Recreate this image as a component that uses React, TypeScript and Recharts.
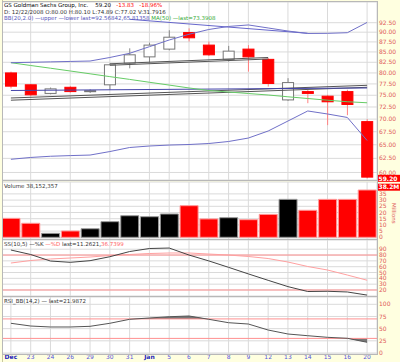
import React from "react";
import {
  ComposedChart,
  Bar,
  Line,
  Area,
  XAxis,
  YAxis,
  CartesianGrid,
  ReferenceLine,
  Cell,
} from "recharts";

const DATES = ["Dec", "23", "24", "26", "29", "30", "31", "Jan", "5", "6", "7", "8", "9", "12", "13", "14", "15", "16", "20"];

const OPEN = [80.0, 77.3, 75.4, 76.75, 75.9, 77.3, 82.3, 83.8, 85.7, 89.9, 86.7, 83.2, 85.7, 83.2, 74.0, 75.8, 74.8, 75.8, 69.5];
const HIGH = [80.3, 77.5, 76.7, 77.0, 76.3, 82.2, 85.9, 87.3, 90.5, 91.0, 87.6, 86.5, 86.7, 83.5, 78.8, 76.2, 75.1, 76.2, 70.0];
const LOW = [76.5, 74.8, 75.2, 75.6, 75.5, 76.2, 81.07, 82.4, 85.4, 87.6, 84.0, 82.7, 80.3, 76.9, 73.8, 73.3, 68.8, 70.8, 59.0];
const CLOSE = [77.0, 75.1, 76.4, 75.8, 76.0, 81.9, 84.3, 86.7, 88.7, 88.55, 84.3, 85.2, 83.8, 77.6, 77.8, 75.4, 73.6, 73.03, 59.2];
const PREV_CLOSE = 79.5;

const BB_UPPER = [82.4, 82.5, 82.6, 82.7, 82.8, 83.65, 84.67, 86.3, 87.99, 89.45, 90.7, 91.5, 91.9, 91.1, 90.3, 89.66, 89.7, 89.86, 92.57];
const BB_LOWER = [62.33, 62.66, 62.88, 63.0, 63.1, 63.74, 64.49, 64.77, 64.95, 65.05, 65.24, 65.62, 66.28, 67.64, 69.62, 71.67, 71.05, 70.34, 65.81];
const MA50 = [82.4, 81.74, 81.1, 80.45, 79.8, 79.15, 78.52, 77.87, 77.24, 76.6, 76.04, 75.71, 75.38, 75.06, 74.67, 74.3, 73.94, 73.61, 73.39];

// volume, millions
const VOLUME = [15.3, 11.3, 3.2, 5.1, 6.9, 12.6, 17.4, 16.6, 18.8, 25.5, 14.8, 15.8, 14.2, 18.5, 30.6, 21.8, 30.6, 30.6, 38.15];

const STO_K = [88.6, 80.9, 69.7, 67.5, 70.3, 77.1, 86.0, 91.2, 92.0, 80.0, 69.9, 58.9, 47.6, 36.6, 25.8, 17.4, 17.8, 16.6, 11.26];
const STO_D = [66.3, 70.6, 73.2, 74.9, 76.6, 79.2, 80.9, 82.6, 83.5, 83.5, 81.7, 80.0, 77.5, 74.0, 68.0, 60.3, 54.3, 45.7, 36.74];

const RSI = [61.0, 55.4, 53.4, 53.4, 54.8, 61.0, 69.2, 71.9, 74.5, 76.0, 69.2, 62.2, 59.5, 47.2, 39.0, 35.5, 32.2, 30.2, 21.99];

const PRICE_TICKS = [60, 62.5, 65, 67.5, 70, 72.5, 75, 77.5, 80, 82.5, 85, 87.5, 90, 92.5];
const VOL_TICKS = [0, 5, 10, 15, 20, 25, 30, 35];
const STO_TICKS = [20, 30, 40, 50, 60, 70, 80, 90];
const RSI_TICKS = [0, 25, 50, 75, 100];

// hand-drawn trendlines on the price panel: [fromIndex, fromPrice, toIndex, toPrice, color]
const TRENDLINES: [number, number, number, number, string][] = [
  [0, 74.41, 18, 77.19, "#555555"],
  [0, 73.94, 18, 76.75, "#555555"],
  [5, 82.14, 13, 83.65, "#555555"],
  [5, 81.79, 13, 83.29, "#555555"],
  [0, 76.04, 18, 76.6, "#4444aa"],
  [6, 93.41, 15, 89.71, "#6666cc"],
];

const rows = DATES.map((d, i) => {
  const prev = i === 0 ? PREV_CLOSE : CLOSE[i - 1];
  return {
    d,
    open: OPEN[i],
    high: HIGH[i],
    low: LOW[i],
    close: CLOSE[i],
    red: CLOSE[i] < prev,
    bbU: BB_UPPER[i],
    bbL: BB_LOWER[i],
    ma: MA50[i],
    vol: VOLUME[i],
    k: STO_K[i],
    dd: STO_D[i],
    rsi: RSI[i],
    rsiHi: [70, Math.max(RSI[i], 70)],
    rsiLo: [Math.min(RSI[i], 30), 30],
  };
});

const AXIS_TICK = { fill: "#e05a5a", fontSize: 6, fontFamily: "DejaVu Sans" };
const GRID = "#dadada";
// half a category band, so point-scale panels line up with the bar panels
const PAD = { left: 9.9, right: 9.9 };

function Candle(props: any) {
  const { x, y, width, height, payload } = props;
  const top = Math.min(y, y + height);
  const h = Math.abs(height);
  const { open, close, high, low, red } = payload;
  const span = Math.log(high) - Math.log(low);
  const toY = (v: number) => top + ((Math.log(high) - Math.log(v)) / span) * h;
  const cx = x + width / 2;
  const bTop = toY(Math.max(open, close));
  const bBot = toY(Math.min(open, close));
  const bh = Math.max(bBot - bTop, 1);
  const hollow = close > open;
  const col = red ? "#ff0000" : "#777777";
  return (
    <g>
      <line x1={cx} x2={cx} y1={top} y2={top + h} stroke={red ? "#ff8080" : "#888888"} strokeWidth={1} />
      <rect
        x={x + 0.5}
        y={bTop}
        width={width - 1}
        height={bh}
        fill={hollow ? "#ffffff" : red ? "#ff0000" : "#000000"}
        stroke={col}
        strokeWidth={1}
      />
    </g>
  );
}

function Tag(props: any) {
  const { viewBox, text, dy = 0 } = props;
  const x = viewBox.x + viewBox.width;
  const y = viewBox.y + dy;
  return (
    <g>
      <rect x={x} y={y - 3.5} width={23} height={7} fill="#ff0000" />
      <text x={x + 1.5} y={y + 2.2} fill="#ffffff" fontSize={6} fontWeight="bold" fontFamily="DejaVu Sans">
        {text}
      </text>
    </g>
  );
}

function DateTick(props: any) {
  const { x, y, payload } = props;
  const month = payload.value === "Dec" || payload.value === "Jan";
  return (
    <text
      x={x}
      y={y + 5}
      textAnchor="middle"
      fontSize={6}
      fontFamily="DejaVu Sans"
      fontWeight={month ? "bold" : "normal"}
      fill={month ? "#2222bb" : "#5555dd"}
    >
      {payload.value}
    </text>
  );
}

const txt: React.CSSProperties = {
  position: "absolute",
  fontFamily: "DejaVu Sans",
  fontSize: 5.5,
  lineHeight: "6px",
  whiteSpace: "nowrap",
  color: "#333",
};

export default function App() {
  return (
    <div
      style={{
        position: "absolute",
        left: 0,
        top: 0,
        width: 400,
        height: 362,
        background: "#ffffe0",
        overflow: "hidden",
      }}
    >
      {/* price panel */}
      <div style={{ position: "absolute", left: 0, top: 0 }}>
        <ComposedChart width={400} height={182} data={rows} margin={{ top: 2, right: 0, bottom: 2, left: 1 }}>
          <CartesianGrid stroke={GRID} fill="#ffffff" />
          <XAxis dataKey="d" hide />
          <YAxis
            orientation="right"
            width={23}
            scale="log"
            domain={[58.71, 98.2]}
            allowDataOverflow
            ticks={PRICE_TICKS}
            tickFormatter={(v: number) => v.toFixed(2)}
            tick={AXIS_TICK}
            tickSize={0}
            tickMargin={2}
            axisLine={false}
            tickLine={false}
            interval={0}
          />
          {TRENDLINES.map(([a, p1, b, p2, c], i) => (
            <ReferenceLine
              key={i}
              segment={[
                { x: DATES[a], y: p1 },
                { x: DATES[b], y: p2 },
              ]}
              stroke={c}
              strokeWidth={1}
              ifOverflow="visible"
            />
          ))}
          <Line dataKey="ma" stroke="#66cc66" strokeWidth={1} dot={false} isAnimationActive={false} />
          <Line dataKey="bbU" stroke="#7070c8" strokeWidth={1} dot={false} isAnimationActive={false} />
          <Line dataKey="bbL" stroke="#7070c8" strokeWidth={1} dot={false} isAnimationActive={false} />
          <Bar
            dataKey={(r: any) => [r.low, r.high]}
            barSize={12}
            shape={<Candle />}
            isAnimationActive={false}
          />
          <ReferenceLine
            y={CLOSE[CLOSE.length - 1]}
            stroke="none"
            ifOverflow="visible"
            label={<Tag text="59.20" dy={1.2} />}
          />
        </ComposedChart>
      </div>

      {/* volume panel */}
      <div style={{ position: "absolute", left: 0, top: 181 }}>
        <ComposedChart width={400} height={59} data={rows} margin={{ top: 1, right: 0, bottom: 1, left: 1 }}>
          <CartesianGrid stroke={GRID} fill="#ffffff" />
          <XAxis dataKey="d" hide />
          <YAxis
            orientation="right"
            width={23}
            domain={[-1.37, 44.6]}
            allowDataOverflow
            ticks={VOL_TICKS}
            tick={AXIS_TICK}
            tickSize={0}
            tickMargin={2}
            axisLine={false}
            tickLine={false}
            interval={0}
          />
          <Bar dataKey="vol" barSize={18} isAnimationActive={false}>
            {rows.map((r, i) => (
              <Cell key={i} fill={r.red ? "#ff0000" : "#000000"} stroke={r.red ? "#ff9a9a" : "#999999"} />
            ))}
          </Bar>
          <ReferenceLine
            y={VOLUME[VOLUME.length - 1]}
            stroke="none"
            ifOverflow="visible"
            label={<Tag text="38.2M" dy={-2.8} />}
          />
        </ComposedChart>
      </div>

      {/* slow stochastic panel */}
      <div style={{ position: "absolute", left: 0, top: 239 }}>
        <ComposedChart width={400} height={58} data={rows} margin={{ top: 1, right: 0, bottom: 1, left: 1 }}>
          <CartesianGrid stroke={GRID} fill="#ffffff" />
          <XAxis dataKey="d" hide padding={PAD} />
          <YAxis
            orientation="right"
            width={23}
            domain={[9.7, 105.8]}
            allowDataOverflow
            ticks={STO_TICKS}
            tick={AXIS_TICK}
            tickSize={0}
            tickMargin={2}
            axisLine={false}
            tickLine={false}
            interval={0}
          />
          <ReferenceLine y={80} stroke="#ff9090" />
          <ReferenceLine y={20} stroke="#ff9090" />
          <Line dataKey="dd" stroke="#ffa0a0" strokeWidth={1} dot={false} isAnimationActive={false} />
          <Line dataKey="k" stroke="#444444" strokeWidth={1} dot={false} isAnimationActive={false} />
        </ComposedChart>
      </div>

      {/* RSI panel */}
      <div style={{ position: "absolute", left: 0, top: 296 }}>
        <ComposedChart width={400} height={66} data={rows} margin={{ top: 1, right: 0, bottom: 0, left: 1 }}>
          <CartesianGrid stroke={GRID} fill="#ffffff" />
          <XAxis
            dataKey="d"
            height={8}
            interval={0}
            padding={PAD}
            tickSize={0}
            tickMargin={0}
            axisLine={false}
            tickLine={false}
            tick={<DateTick />}
          />
          <YAxis
            orientation="right"
            width={23}
            domain={[-2.05, 115]}
            allowDataOverflow
            ticks={RSI_TICKS}
            tick={AXIS_TICK}
            tickSize={0}
            tickMargin={2}
            axisLine={false}
            tickLine={false}
            interval={0}
          />
          <Area dataKey="rsiHi" stroke="none" fill="#777777" fillOpacity={1} isAnimationActive={false} />
          <Area dataKey="rsiLo" stroke="none" fill="#777777" fillOpacity={1} isAnimationActive={false} />
          <ReferenceLine y={70} stroke="#ff9090" />
          <ReferenceLine y={30} stroke="#ff9090" />
          <Line dataKey="rsi" stroke="#555555" strokeWidth={1} dot={false} isAnimationActive={false} />
        </ComposedChart>
      </div>

      {/* frames */}
      <div style={{ position: "absolute", left: 0, top: 0, width: 2, height: 362, background: "#ffffe0", borderRight: "1px solid #c8c8a0" }} />
      {[[1, 180], [180, 239], [239, 296], [296, 354]].map(([t, b], i) => (
        <div
          key={i}
          style={{
            position: "absolute",
            left: 2,
            top: t,
            width: 376,
            height: b - t + 1,
            border: "1px solid #b8b8b8",
            boxSizing: "border-box",
          }}
        />
      ))}

      {/* titles */}
      <div style={{ ...txt, left: 4, top: 2, color: "#000" }}>
        GS Goldman Sachs Group, Inc.&nbsp;&nbsp;&nbsp;&nbsp;59.20&nbsp;&nbsp;&nbsp;
        <span style={{ color: "#ff0000" }}>-13.83&nbsp;&nbsp;&nbsp;-18.96%</span>
      </div>
      <div style={{ ...txt, left: 4, top: 9 }}>
        D: 12/22/2008 O:80.00 H:80.10 L:74.89 C:77.02 V:31.7916
      </div>
      <div style={{ ...txt, left: 4, top: 15, color: "#5555bb" }}>
        BB(20,2.0) —upper —lower last=92.56842,65.81358{" "}
        <span style={{ color: "#33aa33" }}>MA(50) —last=73.3908</span>
      </div>
      <div style={{ ...txt, left: 4, top: 183 }}>Volume 38,152,357</div>
      <div style={{ ...txt, left: 4, top: 241 }}>
        SS(10,5) —%K <span style={{ color: "#ff6060" }}>—%D</span> last=11.2621,
        <span style={{ color: "#ff6060" }}>36.7399</span>
      </div>
      <div style={{ ...txt, left: 4, top: 298 }}>RSI_BB(14,2) — last=21.9872</div>
      <div
        style={{
          ...txt,
          left: 397,
          top: 203,
          color: "#e05a5a",
          transform: "rotate(90deg)",
          transformOrigin: "left top",
        }}
      >
        Millions
      </div>
    </div>
  );
}
